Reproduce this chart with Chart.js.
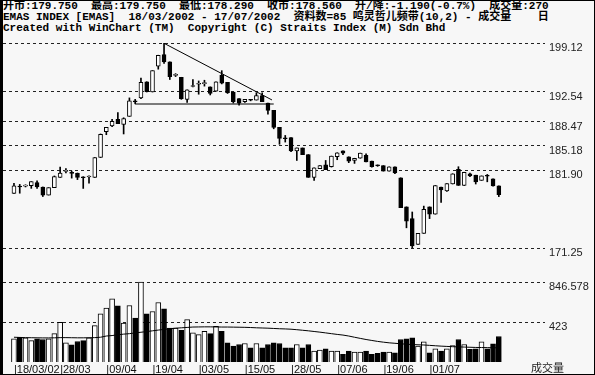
<!DOCTYPE html>
<html>
<head>
<meta charset="utf-8">
<script src="https://cdn.jsdelivr.net/npm/chart.js@4.4.0/dist/chart.umd.min.js"></script>
<style>
body{margin:0;background:#fff;}
#wrap{position:relative;width:595px;height:375px;background:#f7f7f7;overflow:hidden;}
.hd{position:absolute;left:3px;font:bold 11px "Liberation Mono","Noto Sans CJK SC",monospace;white-space:pre;line-height:11px;color:#000;}
#c1{position:absolute;left:0;top:36px;}
#c2{position:absolute;left:0;top:268px;}
#vlab{position:absolute;left:531px;top:361px;font:11px "Noto Sans CJK SC";line-height:12px;color:#222;}
#frame{position:absolute;left:0;top:0;width:595px;height:375px;box-sizing:border-box;border:1px solid #000;border-left:3px solid #000;pointer-events:none;}
</style>
</head>
<body>
<div id="wrap">
<div class="hd" style="top:1px">开市:179.750  最高:179.750  最低:178.290  收市:178.560  升/降:-1.190(-0.7%)  成交量:270</div>
<div class="hd" style="top:12px">EMAS INDEX [EMAS]  18/03/2002 - 17/07/2002  资料数=85 鸣灵哲儿频带(10,2) - 成交量    日</div>
<div class="hd" style="top:23px">Created with WinChart (TM)  Copyright (C) Straits Index (M) Sdn Bhd</div>
<canvas id="c1" width="595" height="232"></canvas>
<canvas id="c2" width="595" height="107"></canvas>
<div id="vlab">成交量</div>
<div id="frame"></div>
</div>
<script>
// daily bars 18/03/2002 - 17/07/2002 (85 bars)
var opens = [178.73,179.65,179.72,179.77,180.2,179.6,178.5,179.5,180.9,181.72,181.6,181.45,180.95,180.95,180.9,183.6,187.1,187.9,188.8,188.1,
  189.2,191.25,191.7,193.9,192.5,196.0,197.6,196.6,194.75,194.5,191.5,193.25,193.55,193.65,193.2,192.6,194.8,193.8,192.5,191.6,
  191.2,191.42,191.4,192.0,191.0,190.0,187.7,186.2,186.3,184.5,184.9,184.0,180.9,182.1,182.6,182.35,183.7,184.5,183.7,183.2,
  183.5,183.9,183.1,182.52,182.5,181.75,182.35,180.85,176.9,175.3,171.8,173.3,176.9,175.9,179.6,179.05,180.0,181.99,179.8,181.4,
  181.2,180.5,181.15,180.7,179.75];
var highs = [180.09,179.95,179.9,180.32,180.45,179.6,179.5,181.1,182.3,182.1,181.75,181.5,181.0,181.1,183.6,186.8,187.7,188.8,189.7,189.0,
  191.7,191.5,194.4,193.9,195.4,197.5,199.12,196.6,195.0,194.5,192.8,194.2,194.0,194.1,193.2,193.9,195.4,193.8,192.5,191.6,
  191.5,191.5,192.4,192.4,191.0,190.0,187.7,186.6,186.3,184.9,184.9,184.0,182.2,182.5,183.2,183.8,184.25,184.5,183.7,183.5,
  184.2,184.1,183.1,182.6,182.5,182.35,182.35,180.85,176.9,176.2,173.3,177.0,176.9,179.8,179.6,180.05,181.4,182.35,181.6,181.5,
  181.2,181.1,181.3,180.7,179.75];
var lows = [178.73,178.75,179.6,179.41,179.4,178.3,178.5,179.5,180.9,181.5,180.8,180.6,179.4,180.1,180.9,183.6,186.7,187.8,188.2,186.8,
  189.2,190.9,191.6,192.5,192.5,195.6,196.4,194.2,194.6,191.5,191.1,193.2,192.2,193.3,192.1,192.6,193.6,192.3,191.0,190.7,
  191.1,191.3,191.4,191.2,189.5,187.5,185.4,185.7,184.4,183.2,184.0,180.9,180.5,182.1,181.95,182.3,183.3,184.0,182.9,182.8,
  183.5,183.0,182.3,182.4,181.75,181.75,181.4,176.8,174.05,171.35,171.8,173.3,175.3,175.9,177.5,179.0,180.0,179.8,179.8,181.0,
  180.0,180.5,180.3,179.7,178.29];
var closes = [179.77,179.6,179.78,180.32,179.6,178.5,179.5,181.0,181.5,181.78,181.45,180.9,180.85,181.05,183.6,186.75,187.7,188.5,188.2,188.9,
  191.3,191.15,193.8,192.55,195.4,197.5,196.6,194.6,194.85,191.6,192.8,193.35,193.6,193.7,192.3,193.9,193.7,192.4,191.2,191.0,
  191.5,191.38,192.0,191.2,190.0,187.7,186.2,186.15,184.5,184.9,184.0,180.9,182.2,182.5,181.95,183.8,184.25,184.2,183.1,183.5,
  184.2,183.0,182.35,182.48,181.75,182.35,181.5,176.8,174.95,171.6,173.3,176.55,175.9,179.8,179.2,180.05,181.4,179.8,181.6,181.1,
  180.3,181.1,181.05,179.75,178.56];
var volumes = [245,262,255,227,245,238,245,301,420,203,182,217,227,255,385,511,570,668,595,413,
  598,465,846.578,511,535,630,563,360,360,336,448,308,290,325,301,378,325,203,168,185,
  196,150,196,150,185,203,196,150,150,185,150,185,115,126,140,115,115,80,115,105,
  105,115,80,91,105,105,98,238,245,255,168,213,98,140,115,140,175,238,185,133,
  140,213,140,192,270];
var volumeAvg = [262,260,258,257,256,255,255,256,258,258,257,256,256,257,258,262,275,280,288,295,
  300,308,315,322,330,338,345,352,358,362,366,370,371,372,372,371,370,370,369,368,
  367,365,362,360,358,355,352,350,347,342,336,330,323,316,308,300,292,285,275,262,
  250,238,228,218,210,203,198,193,188,185,182,180,176,172,168,165,162,160,158,156,
  154,153,152,151,150];

var priceTickLabels = ['199.12','192.54','188.47','185.18','181.90','171.25'];
var volTickLabels = ['846.578','423'];
var dateTickIdx = [0,8,16,24,32,40,48,56,64,72];
var dateTickLabels = ['|18/03/02','|28/03','|09/04','|19/04','|03/05','|15/05','|28/05','|07/06','|19/06','|01/07'];

// hand drawn lines on the chart: [index, price]
var trendDown = [[26,199.12],[44.7,191.42]];
var trendFlat = [[21,190.87],[45,190.87]];

var xMin = -1.9, xMax = 92.0;

var bodies = [], wicks = [], colors = [], vols = [], avg = [];
for (var i = 0; i < opens.length; i++) {
  bodies.push({x: i, y: [opens[i], closes[i]]});
  wicks.push({x: i, y: [lows[i], highs[i]]});
  colors.push(closes[i] >= opens[i] ? '#ffffff' : '#000000');
  vols.push({x: i, y: volumes[i]});
  avg.push({x: i, y: volumeAvg[i]});
}
function pts(a) { return a.map(function(p){ return {x: p[0], y: p[1]}; }); }

var tickFont = {family: "'Liberation Sans', Arial, sans-serif", size: 11};

// no extra room for the end labels, the panels are fixed
function fixY(s) { s.width = 50; s.paddingTop = 0; s.paddingBottom = 0; }

new Chart(document.getElementById('c1'), {
  type: 'bar',
  data: {
    datasets: [
      {type: 'line', data: pts(trendDown), borderColor: '#000', borderWidth: 1, pointRadius: 0, order: 0},
      {type: 'line', data: pts(trendFlat), borderColor: '#000', borderWidth: 1, pointRadius: 0, order: 0},
      {data: bodies, backgroundColor: colors, borderColor: '#000', borderWidth: 1, borderSkipped: false,
        barThickness: 4, minBarLength: 1, grouped: false, order: 1},
      {data: wicks, backgroundColor: '#000', barThickness: 1, grouped: false, order: 2}
    ]
  },
  options: {
    animation: false, responsive: false,
    plugins: {legend: {display: false}, tooltip: {enabled: false}},
    layout: {padding: {left: 3, top: 0, right: 0, bottom: 0}},
    scales: {
      x: {type: 'linear', min: xMin, max: xMax, offset: false, display: false},
      y: {
        position: 'right', min: 168.59, max: 200.11,
        afterBuildTicks: function(s) { s.ticks = priceTickLabels.map(function(t){ return {value: parseFloat(t)}; }); },
        afterFit: fixY,
        ticks: {callback: function(v, i) { return priceTickLabels[i]; }, padding: 4, labelOffset: 5, color: '#222', font: tickFont},
        grid: {color: '#222', drawTicks: false},
        border: {display: false, dash: [3, 3]}
      }
    }
  }
});

new Chart(document.getElementById('c2'), {
  type: 'bar',
  data: {
    datasets: [
      {type: 'line', data: avg, borderColor: '#000', borderWidth: 1, pointRadius: 0, order: 0},
      {data: vols, backgroundColor: colors, borderColor: '#000', borderWidth: 1, barThickness: 5, grouped: false, order: 1}
    ]
  },
  options: {
    animation: false, responsive: false,
    plugins: {legend: {display: false}, tooltip: {enabled: false}},
    layout: {padding: {left: 3, top: 0, right: 0, bottom: 0}},
    scales: {
      x: {
        type: 'linear', min: xMin, max: xMax, offset: false,
        afterBuildTicks: function(s) { s.ticks = dateTickIdx.map(function(v){ return {value: v}; }); },
        afterFit: function(s) { s.height = 13; s.paddingLeft = 0; s.paddingRight = 0; },
        ticks: {callback: function(v, i) { return dateTickLabels[i]; }, align: 'start', autoSkip: false,
          maxRotation: 0, minRotation: 0, padding: 1, color: '#111', font: tickFont},
        grid: {display: false, drawTicks: false},
        border: {display: false}
      },
      y: {
        position: 'right', min: 0, max: 995,
        afterBuildTicks: function(s) { s.ticks = volTickLabels.map(function(t){ return {value: parseFloat(t)}; }); },
        afterFit: fixY,
        ticks: {callback: function(v, i) { return volTickLabels[i]; }, padding: 4, labelOffset: 5, color: '#222', font: tickFont},
        grid: {color: '#222', drawTicks: false},
        border: {display: false, dash: [3, 3]}
      }
    }
  }
});
</script>
</body>
</html>
